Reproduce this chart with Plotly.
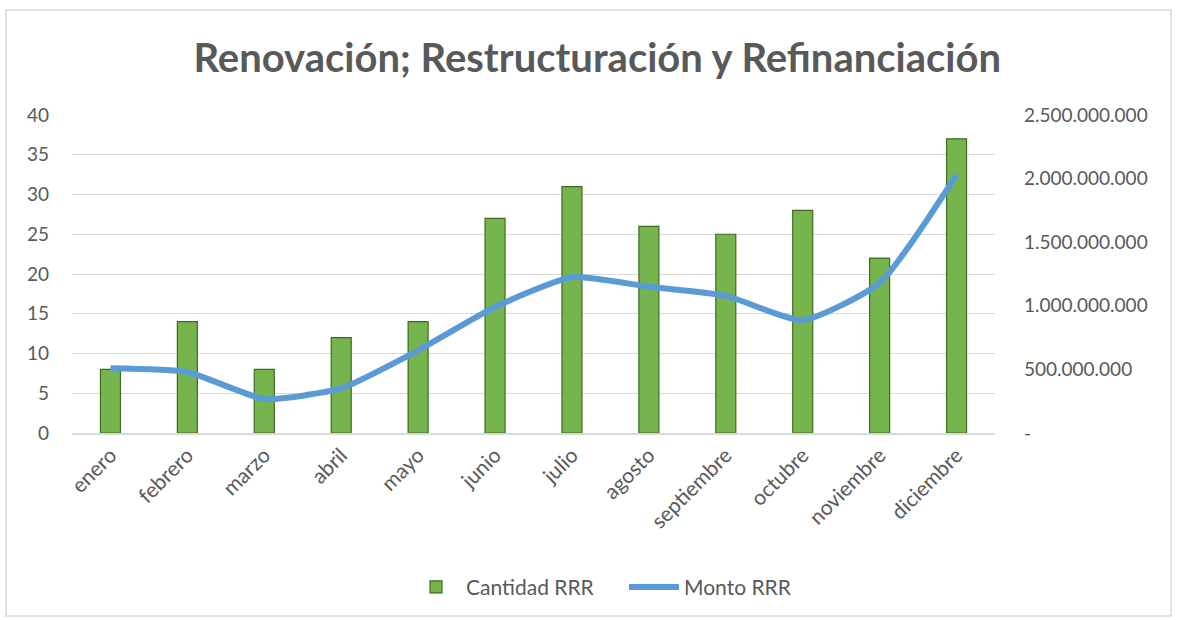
import plotly.graph_objects as go

months = ["enero", "febrero", "marzo", "abril", "mayo", "junio", "julio",
          "agosto", "septiembre", "octubre", "noviembre", "diciembre"]
cantidad_rrr = [8, 14, 8, 12, 14, 27, 31, 26, 25, 28, 22, 37]
monto_rrr = [510e6, 480e6, 268e6, 352e6, 650e6, 990e6, 1225e6,
             1150e6, 1078e6, 888e6, 1180e6, 2030e6]
left_ticks = [0, 5, 10, 15, 20, 25, 30, 35, 40]
right_tick_vals = [0, 500e6, 1000e6, 1500e6, 2000e6, 2500e6]
right_tick_text = ["-", "500.000.000", "1.000.000.000", "1.500.000.000",
                   "2.000.000.000", "2.500.000.000"]

FONT = "Lato, 'Open Sans', sans-serif"
GRAY = "#595959"

fig = go.Figure()
fig.add_trace(go.Bar(
    x=months, y=cantidad_rrr, name="Cantidad RRR",
    marker=dict(color="#76B54D", line=dict(color="#3E6B21", width=1.2)),
    width=0.26, yaxis="y",
))
fig.add_trace(go.Scatter(
    x=months, y=monto_rrr, name="Monto RRR", mode="lines",
    line=dict(color="#5B9BD5", width=6, shape="spline", smoothing=0.55),
    yaxis="y2",
))

L, R, T, B = 72, 183, 115, 187
W, H = 1178, 620
pw, ph = W - L - R, H - T - B

fig.update_layout(
    width=W, height=H,
    margin=dict(l=L, r=R, t=T, b=B),
    paper_bgcolor="white", plot_bgcolor="white",
    font=dict(family=FONT, color=GRAY, size=19),
    title=dict(text="<b>Renovación; Restructuración y Refinanciación</b>",
               x=0.507, xanchor="center", y=0.907, yanchor="middle",
               font=dict(size=40, color=GRAY, family=FONT)),
    xaxis=dict(tickangle=-45, tickfont=dict(size=21, color=GRAY),
               showgrid=False, showline=True, linecolor="#D9D9D9", linewidth=1.5,
               ticks=""),
    yaxis=dict(range=[0, 40], tickvals=left_ticks, showgrid=True,
               gridcolor="#D9D9D9", gridwidth=1.3, zeroline=False,
               tickfont=dict(size=19, color=GRAY), ticklabelstandoff=22),
    yaxis2=dict(range=[0, 2.5e9], overlaying="y", side="right",
                tickvals=right_tick_vals, ticktext=right_tick_text,
                showgrid=False, zeroline=False,
                tickfont=dict(size=19, color=GRAY), ticklabelstandoff=28),
    legend=dict(orientation="h", x=(406 - L) / pw, xanchor="left",
                y=-0.485, yanchor="middle",
                font=dict(size=21, color=GRAY), itemwidth=50,
                entrywidth=153, traceorder="normal"),
    bargap=0.5,
    showlegend=True,
)

fig.add_shape(type="rect", xref="paper", yref="paper",
              x0=(6 - L) / pw, x1=(1171 - L) / pw,
              y0=(T + ph - 616) / ph, y1=(T + ph - 10) / ph,
              line=dict(color="#D9D9D9", width=1.5), layer="below")

fig.write_html("out.html", config={"displayModeBar": False},
               post_script="document.body.style.margin='0';")
